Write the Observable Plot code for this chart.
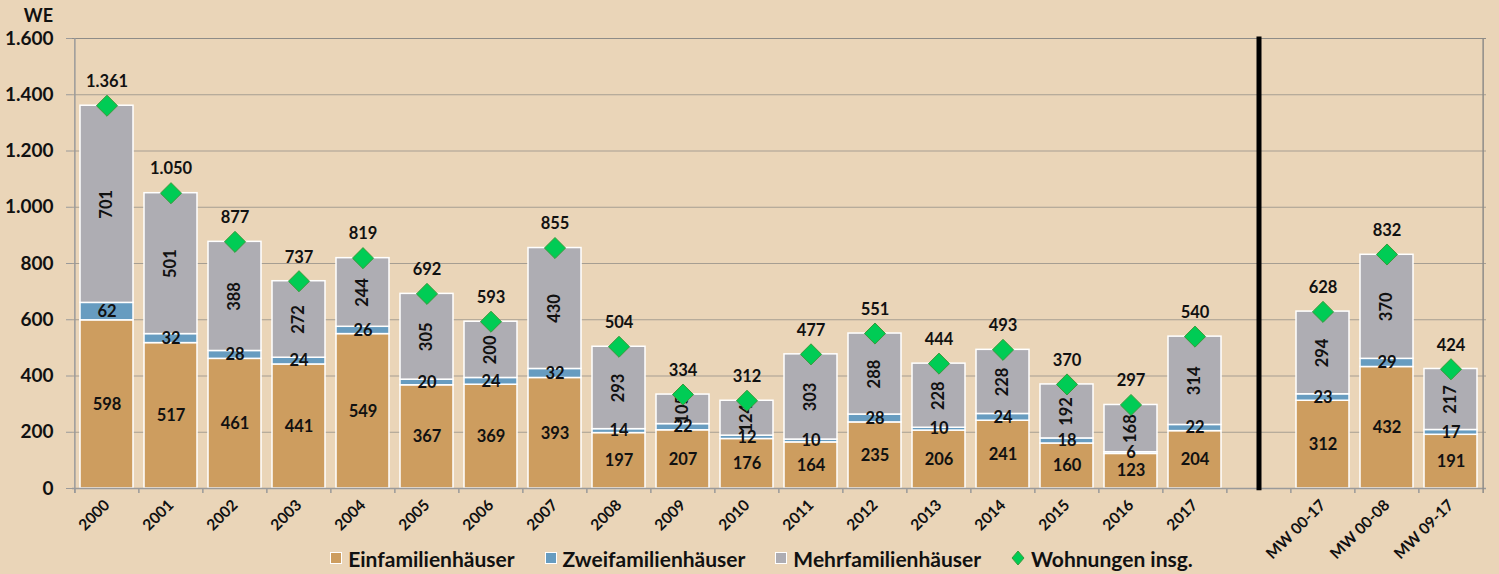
<!DOCTYPE html>
<html>
<head>
<meta charset="utf-8">
<script src="https://cdn.jsdelivr.net/npm/d3@7"></script>
<script src="https://cdn.jsdelivr.net/npm/@observablehq/plot@0.6"></script>
<style>
  html, body { margin: 0; padding: 0; background: #EAD5B8; }
  body { width: 1499px; height: 574px; overflow: hidden; position: relative; font-family: Lato, "Open Sans", sans-serif; }
  #chart svg { display: block; background: transparent; }
  #legend { position: absolute; left: 0; top: 541px; width: 1499px; height: 34px; display: flex; justify-content: center; align-items: center; gap: 30px;
            font-family: Lato, sans-serif; font-weight: bold; font-size: 21px; color: #111; padding-left: 24px; box-sizing: border-box; }
  .item { display: flex; align-items: center; gap: 6px; }
  .sw { width: 10px; height: 10px; border: 1px solid #fff; display: inline-block; }
</style>
</head>
<body>
<div id="chart"></div>
<div id="legend"></div>
<script>
// ---- data ----
const years = ["2000","2001","2002","2003","2004","2005","2006","2007","2008","2009","2010","2011","2012","2013","2014","2015","2016","2017"];
const gap = " ";
const averages = ["MW 00-17","MW 00-08","MW 09-17"];
const categories = [...years, gap, ...averages];
const catsWithData = [...years, ...averages];

const einfamilien = [598,517,461,441,549,367,369,393,197,207,176,164,235,206,241,160,123,204, 312,432,191];
const zweifamilien = [62,32,28,24,26,20,24,32,14,22,12,10,28,10,24,18,6,22, 23,29,17];
const mehrfamilien = [701,501,388,272,244,305,200,430,293,105,124,303,288,228,228,192,168,314, 294,370,217];
const wohnungen = [1361,1050,877,737,819,692,593,855,504,334,312,477,551,444,493,370,297,540, 628,832,424];

const seriesNames = ["Einfamilienhäuser","Zweifamilienhäuser","Mehrfamilienhäuser"];
const seriesColors = ["#CD9D5F","#679CC0","#AEADB3"];
const totalName = "Wohnungen insg.";
const yTicks = [0,200,400,600,800,1000,1200,1400,1600];

// ---- build table ----
const rows = [];
catsWithData.forEach((c, i) => {
  const vals = [einfamilien[i], zweifamilien[i], mehrfamilien[i]];
  let acc = 0;
  vals.forEach((v, k) => {
    rows.push({cat: c, type: seriesNames[k], value: v, y1: acc, y2: acc + v, mid: acc + v / 2});
    acc += v;
  });
});
const totals = catsWithData.map((c, i) => ({cat: c, value: wohnungen[i]}));

const de = d3.formatLocale({decimal: ",", thousands: ".", grouping: [3], currency: ["", "€"]});
const fmt = de.format(",d");

const W = 1499, mL = 72, mR = 13;
const step = (W - mL - mR) / categories.length;
const font = "Lato, 'Open Sans', sans-serif";
const LS = 16.5;

const chart = Plot.plot({
  width: W,
  height: 574,
  marginLeft: mL,
  marginRight: mR,
  marginTop: 38,
  marginBottom: 86,
  style: {fontFamily: font, background: "transparent", color: "#111"},
  x: {type: "band", domain: categories, paddingInner: 0.17, paddingOuter: 0.085, label: null},
  y: {domain: [0, 1600], label: null},
  color: {domain: seriesNames, range: seriesColors},
  marks: [
    // gridlines
    Plot.ruleY(yTicks.slice(1, -1), {stroke: "#A69E92", strokeWidth: 1.2}),
    Plot.ruleY([1600], {stroke: "#8E8C88", strokeWidth: 1.2}),
    // bars
    Plot.barY(rows, {x: "cat", y1: "y1", y2: "y2", fill: "type", stroke: "#fff", strokeWidth: 1.5}),
    // x axis baseline
    Plot.ruleY([0], {stroke: "#9A9A9A", strokeWidth: 1.5}),
    // category boundary ticks
    Plot.ruleX(categories, {x: d => d, y1: 0, y2: -18, dx: -step / 2, stroke: "#9A9A9A", strokeWidth: 1.5}),
    // y axis line
    Plot.ruleX([categories[0]], {y1: -18, y2: 1600, dx: -step / 2, stroke: "#9A9A9A", strokeWidth: 1.5}),
    // right border
    Plot.ruleX([categories[categories.length - 1]], {y1: -18, y2: 1600, dx: step / 2, stroke: "#8E8C88", strokeWidth: 1.5}),
    // separator
    Plot.ruleX([gap], {y1: -8, y2: 1605, stroke: "#000", strokeWidth: 5}),
    // axes
    Plot.axisY({ticks: yTicks, tickSize: 6, tickPadding: 13, tickFormat: fmt, stroke: "#9A9A9A",
                fontSize: 19, fontWeight: "bold", fill: "#111", label: null}),
    Plot.axisX({tickSize: 0, tickPadding: 14, tickRotate: -45, tickFormat: d => d === gap ? "" : d,
                fontSize: 15.5, fontWeight: "bold", fill: "#111", label: null}),
    Plot.text(["WE"], {frameAnchor: "top-left", dx: -34, dy: -22, textAnchor: "middle", lineAnchor: "middle",
                       fontSize: 18, fontWeight: "bold", fill: "#111"}),
    // segment labels
    Plot.text(rows.filter(r => r.type === seriesNames[0]), {x: "cat", y: "mid", text: d => fmt(d.value),
              fontSize: LS, fontWeight: "bold", fill: "#111"}),
    Plot.text(rows.filter(r => r.type === seriesNames[1]), {x: "cat", y: "mid", text: d => fmt(d.value),
              fontSize: LS, fontWeight: "bold", fill: "#111"}),
    Plot.text(rows.filter(r => r.type === seriesNames[2]), {x: "cat", y: "mid", text: d => fmt(d.value), rotate: -90,
              fontSize: LS, fontWeight: "bold", fill: "#111"}),
    // totals
    Plot.dot(totals, {x: "cat", y: "value", symbol: "diamond2", r: 9.5, fill: "#00CC55", stroke: "#3A9A3A", strokeWidth: 1}),
    Plot.text(totals, {x: "cat", y: "value", text: d => fmt(d.value), dy: -24,
              fontSize: LS, fontWeight: "bold", fill: "#111"})
  ]
});
document.getElementById("chart").appendChild(chart);

// ---- legend ----
const legend = document.getElementById("legend");
seriesNames.forEach((n, k) => {
  const it = document.createElement("div");
  it.className = "item";
  it.innerHTML = `<span class="sw" style="background:${seriesColors[k]}"></span><span>${n}</span>`;
  legend.appendChild(it);
});
const it = document.createElement("div");
it.className = "item";
it.innerHTML = `<svg width="14" height="16" viewBox="-7 -8 14 16"><path d="M0,-7L6,0L0,7L-6,0Z" fill="#00CC55" stroke="#3A9A3A" stroke-width="1"/></svg><span>${totalName}</span>`;
legend.appendChild(it);
</script>
</body>
</html>
